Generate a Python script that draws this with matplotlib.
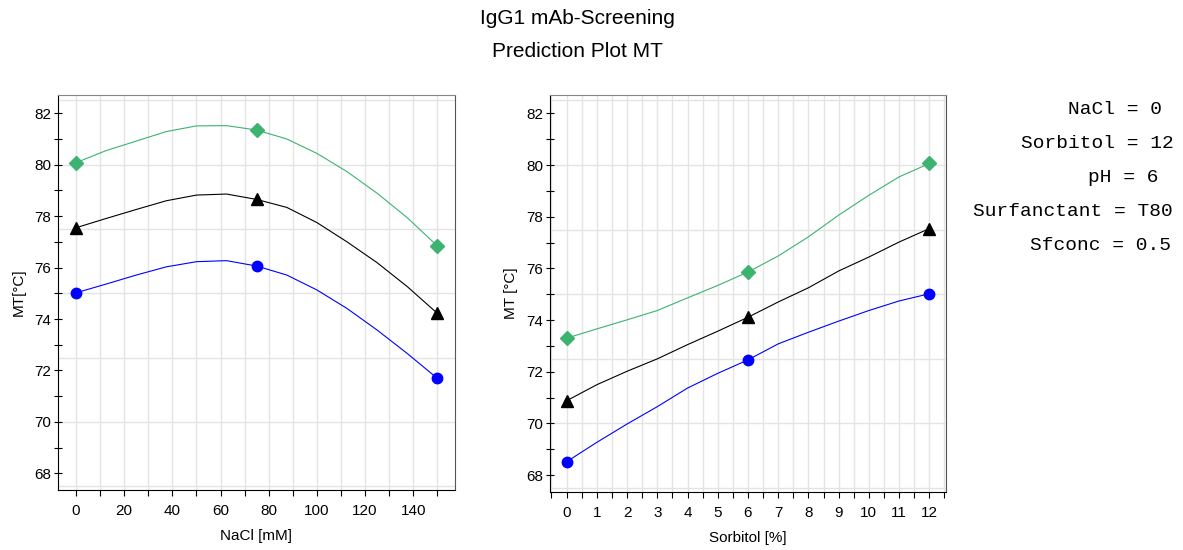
import matplotlib.pyplot as plt
from matplotlib.ticker import MultipleLocator

plt.rcParams['font.family'] = ['Liberation Sans', 'DejaVu Sans']

# values
nacl = [0, 12.5, 25, 37.5, 50, 62.5, 75, 87.5, 100, 112.5, 125, 137.5, 150]
nacl_upper = [80.08, 80.55, 80.92, 81.29, 81.51, 81.52, 81.35, 81.0, 80.44, 79.73, 78.89, 77.94, 76.84]
nacl_mid = [77.55, 77.91, 78.26, 78.6, 78.82, 78.86, 78.65, 78.34, 77.75, 77.0, 76.19, 75.26, 74.22]
nacl_lower = [75.02, 75.36, 75.71, 76.03, 76.23, 76.27, 76.06, 75.71, 75.13, 74.41, 73.57, 72.66, 71.69]

sorb = [0, 1, 2, 3, 4, 5, 6, 7, 8, 9, 10, 11, 12]
sorb_upper = [73.30, 73.66, 74.01, 74.37, 74.86, 75.34, 75.86, 76.48, 77.22, 78.06, 78.83, 79.54, 80.06]
sorb_mid = [70.88, 71.5, 72.02, 72.5, 73.05, 73.57, 74.11, 74.70, 75.25, 75.9, 76.44, 77.02, 77.54]
sorb_lower = [68.52, 69.27, 69.98, 70.65, 71.37, 71.94, 72.46, 73.08, 73.53, 73.96, 74.37, 74.74, 75.02]

# design points that carry markers
nacl_pts = [0, 75, 150]
sorb_pts = [0, 6, 12]

settings = ["NaCl = 0", "Sorbitol = 12", "pH = 6", "Surfanctant = T80", "Sfconc = 0.5"]

GREEN = '#3cb371'
BLUE = '#0000ff'


def draw_panel(ax, x, upper, mid, lower, pts):
    idx = [x.index(p) for p in pts]
    for ys, col, mk, ms in [(upper, GREEN, 'D', 7), (mid, 'black', '^', 8), (lower, BLUE, 'o', 7.5)]:
        ax.plot(x, ys, color=col, lw=0.8, zorder=3)
        ax.plot([x[i] for i in idx], [ys[i] for i in idx], ls='none', marker=mk,
                ms=ms, color=col, zorder=4)
    ax.set_ylim(67.35, 82.71)
    ax.yaxis.set_major_locator(MultipleLocator(2))
    ax.yaxis.set_minor_locator(MultipleLocator(1))
    for yg in [67.5, 70, 72.5, 75, 77.5, 80, 82.5]:
        ax.axhline(yg, color='#e4e4e4', lw=1, zorder=1)
    ax.tick_params(axis='y', which='both', direction='inout', length=6, width=0.8,
                   labelsize=11, pad=2)
    ax.tick_params(axis='x', which='both', direction='out', length=4, width=0.8,
                   labelsize=11, pad=6)
    ax.spines['left'].set_color('black')
    ax.spines['bottom'].set_color('black')
    ax.spines['top'].set_color('#888888')
    ax.spines['right'].set_color('#555555')


fig = plt.figure(figsize=(11.83, 5.5), dpi=100)
ax1 = fig.add_axes([0.049, 0.109, 0.3356, 0.7182])
ax2 = fig.add_axes([0.4649, 0.1055, 0.3347, 0.7218])

draw_panel(ax1, nacl, nacl_upper, nacl_mid, nacl_lower, nacl_pts)
ax1.set_xlim(-7.5, 157.3)
ax1.xaxis.set_major_locator(MultipleLocator(20))
ax1.xaxis.set_minor_locator(MultipleLocator(10))
ax1.grid(True, which='both', axis='x', color='#e4e4e4', lw=1, zorder=1)
ax1.set_xlabel("NaCl [mM]", fontsize=11, labelpad=8)
ax1.set_ylabel("MT[°C]", fontsize=11, labelpad=6)

draw_panel(ax2, sorb, sorb_upper, sorb_mid, sorb_lower, sorb_pts)
ax2.set_xlim(-0.55, 12.55)
ax2.xaxis.set_major_locator(MultipleLocator(1))
ax2.xaxis.set_minor_locator(MultipleLocator(0.5))
ax2.grid(True, which='both', axis='x', color='#e4e4e4', lw=1, zorder=1)
ax2.set_xlabel("Sorbitol [%]", fontsize=11, labelpad=8)
ax2.set_ylabel("MT [°C]", fontsize=11, labelpad=6)

fig.text(0.488, 0.967, "IgG1 mAb-Screening", ha='center', va='center', fontsize=15)
fig.text(0.488, 0.907, "Prediction Plot MT", ha='center', va='center', fontsize=15)

# factor settings, right-hand side
lefts = [1068, 1021, 1088, 973, 1030]
rows = [110, 143, 178, 212, 245]
for s, xl, yr in zip(settings, lefts, rows):
    fig.text(xl / 1183, 1 - yr / 550, s, ha='left', va='center', fontsize=14,
             family='Liberation Mono')

fig.savefig("out.png", dpi=100)
